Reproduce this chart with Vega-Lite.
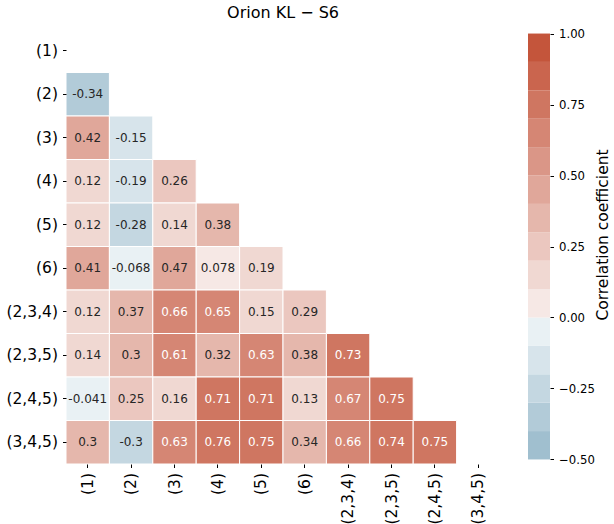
{
  "$schema": "https://vega.github.io/schema/vega-lite/v6.json",
  "padding": 5,
  "background": "white",
  "config": {
    "font": "DejaVu Sans",
    "view": {"stroke": null},
    "axis": {"labelFont": "DejaVu Sans", "titleFont": "DejaVu Sans", "labelColor": "black", "titleColor": "black", "tickColor": "black", "domain": false, "grid": false}
  },
  "datasets": {
    "corr": [
      {"row": "(2)", "col": "(1)", "value": -0.34},
      {"row": "(3)", "col": "(1)", "value": 0.42},
      {"row": "(3)", "col": "(2)", "value": -0.15},
      {"row": "(4)", "col": "(1)", "value": 0.12},
      {"row": "(4)", "col": "(2)", "value": -0.19},
      {"row": "(4)", "col": "(3)", "value": 0.26},
      {"row": "(5)", "col": "(1)", "value": 0.12},
      {"row": "(5)", "col": "(2)", "value": -0.28},
      {"row": "(5)", "col": "(3)", "value": 0.14},
      {"row": "(5)", "col": "(4)", "value": 0.38},
      {"row": "(6)", "col": "(1)", "value": 0.41},
      {"row": "(6)", "col": "(2)", "value": -0.068},
      {"row": "(6)", "col": "(3)", "value": 0.47},
      {"row": "(6)", "col": "(4)", "value": 0.078},
      {"row": "(6)", "col": "(5)", "value": 0.19},
      {"row": "(2,3,4)", "col": "(1)", "value": 0.12},
      {"row": "(2,3,4)", "col": "(2)", "value": 0.37},
      {"row": "(2,3,4)", "col": "(3)", "value": 0.66},
      {"row": "(2,3,4)", "col": "(4)", "value": 0.65},
      {"row": "(2,3,4)", "col": "(5)", "value": 0.15},
      {"row": "(2,3,4)", "col": "(6)", "value": 0.29},
      {"row": "(2,3,5)", "col": "(1)", "value": 0.14},
      {"row": "(2,3,5)", "col": "(2)", "value": 0.3},
      {"row": "(2,3,5)", "col": "(3)", "value": 0.61},
      {"row": "(2,3,5)", "col": "(4)", "value": 0.32},
      {"row": "(2,3,5)", "col": "(5)", "value": 0.63},
      {"row": "(2,3,5)", "col": "(6)", "value": 0.38},
      {"row": "(2,3,5)", "col": "(2,3,4)", "value": 0.73},
      {"row": "(2,4,5)", "col": "(1)", "value": -0.041},
      {"row": "(2,4,5)", "col": "(2)", "value": 0.25},
      {"row": "(2,4,5)", "col": "(3)", "value": 0.16},
      {"row": "(2,4,5)", "col": "(4)", "value": 0.71},
      {"row": "(2,4,5)", "col": "(5)", "value": 0.71},
      {"row": "(2,4,5)", "col": "(6)", "value": 0.13},
      {"row": "(2,4,5)", "col": "(2,3,4)", "value": 0.67},
      {"row": "(2,4,5)", "col": "(2,3,5)", "value": 0.75},
      {"row": "(3,4,5)", "col": "(1)", "value": 0.3},
      {"row": "(3,4,5)", "col": "(2)", "value": -0.3},
      {"row": "(3,4,5)", "col": "(3)", "value": 0.63},
      {"row": "(3,4,5)", "col": "(4)", "value": 0.76},
      {"row": "(3,4,5)", "col": "(5)", "value": 0.75},
      {"row": "(3,4,5)", "col": "(6)", "value": 0.34},
      {"row": "(3,4,5)", "col": "(2,3,4)", "value": 0.66},
      {"row": "(3,4,5)", "col": "(2,3,5)", "value": 0.74},
      {"row": "(3,4,5)", "col": "(2,4,5)", "value": 0.75}
    ],
    "bins": [
      {"lo": -0.5, "hi": -0.4},
      {"lo": -0.4, "hi": -0.3},
      {"lo": -0.3, "hi": -0.2},
      {"lo": -0.2, "hi": -0.1},
      {"lo": -0.1, "hi": 0.0},
      {"lo": 0.0, "hi": 0.1},
      {"lo": 0.1, "hi": 0.2},
      {"lo": 0.2, "hi": 0.3},
      {"lo": 0.3, "hi": 0.4},
      {"lo": 0.4, "hi": 0.5},
      {"lo": 0.5, "hi": 0.6},
      {"lo": 0.6, "hi": 0.7},
      {"lo": 0.7, "hi": 0.8},
      {"lo": 0.8, "hi": 0.9},
      {"lo": 0.9, "hi": 1.0}
    ]
  },
  "spacing": 28,
  "resolve": {"scale": {"color": "independent"}},
  "hconcat": [
    {
      "title": {"text": "Orion KL − S6", "fontSize": 16, "fontWeight": "normal", "color": "black", "font": "DejaVu Sans", "offset": 8},
      "width": 434,
      "height": 435,
      "data": {"name": "corr"},
      "encoding": {
        "x": {
          "field": "col", "type": "ordinal",
          "scale": {"domain": ["(1)", "(2)", "(3)", "(4)", "(5)", "(6)", "(2,3,4)", "(2,3,5)", "(2,4,5)", "(3,4,5)"], "paddingInner": 0, "paddingOuter": 0},
          "axis": {"title": null, "labelAngle": 270, "labelFontSize": 15.5, "tickSize": 3.5, "labelPadding": 5, "tickWidth": 1}
        },
        "y": {
          "field": "row", "type": "ordinal",
          "scale": {"domain": ["(1)", "(2)", "(3)", "(4)", "(5)", "(6)", "(2,3,4)", "(2,3,5)", "(2,4,5)", "(3,4,5)"], "paddingInner": 0, "paddingOuter": 0},
          "axis": {"title": null, "labelFontSize": 15.5, "tickSize": 3.5, "labelPadding": 5, "tickWidth": 1}
        }
      },
      "layer": [
        {
          "mark": {"type": "rect", "stroke": "white", "strokeWidth": 1},
          "encoding": {
            "color": {
              "field": "value", "type": "quantitative",
              "scale": {"type": "threshold", "domain": [-0.4, -0.3, -0.2, -0.1, 0, 0.1, 0.2, 0.3, 0.4, 0.5, 0.6, 0.7, 0.8, 0.9],
                "range": ["#a0bfcf", "#b2cbd8", "#c4d7e1", "#d7e4eb", "#e9f1f4", "#f6e8e5", "#f0d8d2", "#ebc7bf", "#e5b7ac", "#e0a79a", "#da9687", "#d58674", "#cf7661", "#ca654e", "#c4553b"]},
              "legend": null
            }
          }
        },
        {
          "mark": {"type": "text", "fontSize": 12, "font": "DejaVu Sans"},
          "encoding": {
            "text": {"field": "value", "type": "nominal"},
            "color": {"condition": {"test": "datum.value >= 0.6", "value": "white"}, "value": "#262626"}
          }
        }
      ]
    },
    {
      "width": 22,
      "height": 435,
      "data": {"name": "bins"},
      "mark": {"type": "rect"},
      "encoding": {
        "x": {"datum": "cb", "type": "nominal", "axis": null, "scale": {"paddingInner": 0, "paddingOuter": 0}},
        "y": {
          "field": "lo", "type": "quantitative",
          "scale": {"domain": [-0.516, 1.016], "nice": false, "zero": false},
          "axis": {"orient": "right", "values": [-0.5, -0.25, 0, 0.25, 0.5, 0.75, 1], "format": ".2f", "labelFontSize": 11.7, "tickSize": 3.5, "tickWidth": 1, "labelPadding": 5,
            "title": "Correlation coefficient", "titleFontSize": 15.5, "titleFontWeight": "normal", "titleAngle": 270, "titleBaseline": "top", "titlePadding": 1, "titleY": 205.5}
        },
        "y2": {"field": "hi"},
        "color": {
          "field": "lo", "type": "quantitative",
          "scale": {"type": "threshold", "domain": [-0.4, -0.3, -0.2, -0.1, 0, 0.1, 0.2, 0.3, 0.4, 0.5, 0.6, 0.7, 0.8, 0.9],
            "range": ["#a0bfcf", "#b2cbd8", "#c4d7e1", "#d7e4eb", "#e9f1f4", "#f6e8e5", "#f0d8d2", "#ebc7bf", "#e5b7ac", "#e0a79a", "#da9687", "#d58674", "#cf7661", "#ca654e", "#c4553b"]},
          "legend": null
        }
      }
    }
  ]
}
